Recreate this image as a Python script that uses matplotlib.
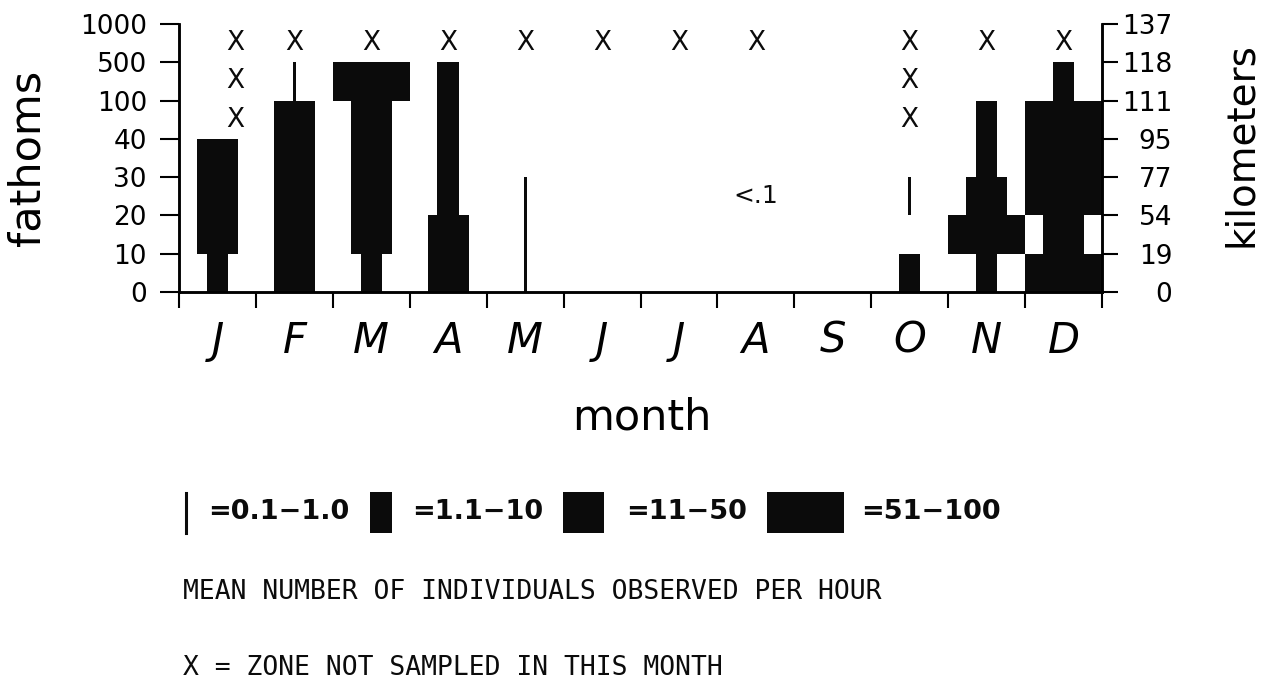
import numpy as np
import matplotlib
matplotlib.use("Agg")
import matplotlib.pyplot as plt
from matplotlib.patches import Rectangle
from matplotlib.lines import Line2D

months = ['J', 'F', 'M', 'A', 'M', 'J', 'J', 'A', 'S', 'O', 'N', 'D']
fathom_labels = ['0', '10', '20', '30', '40', '100', '500', '1000']
km_labels = ['0', '19', '54', '77', '95', '111', '118', '137']

# abundance class in each depth zone, shallow to deep:
# 0-10, 10-20, 20-30, 30-40, 40-100, 100-500, 500-1000 fathoms
# 0 = none, 1 = 0.1-1.0, 2 = 1.1-10, 3 = 11-50, 4 = 51-100
abundance = [
    [2, 3, 3, 3, 0, 0, 0],   # Jan
    [3, 3, 3, 3, 3, 1, 0],   # Feb
    [2, 3, 3, 3, 3, 4, 0],   # Mar
    [3, 3, 2, 2, 2, 2, 0],   # Apr
    [1, 1, 1, 0, 0, 0, 0],   # May
    [0, 0, 0, 0, 0, 0, 0],   # Jun
    [0, 0, 0, 0, 0, 0, 0],   # Jul
    [0, 0, 0, 0, 0, 0, 0],   # Aug
    [0, 0, 0, 0, 0, 0, 0],   # Sep
    [2, 0, 1, 0, 0, 0, 0],   # Oct
    [2, 4, 3, 2, 2, 0, 0],   # Nov
    [4, 3, 4, 4, 4, 2, 0],   # Dec
]
class_labels = ['=0.1\u22121.0', '=1.1\u221210', '=11\u221250', '=51\u2212100']

# (month, zone) pairs that were not sampled
not_sampled = [(0, 4), (0, 5), (0, 6), (1, 6), (2, 6), (3, 6), (4, 6),
               (5, 6), (6, 6), (7, 6), (9, 4), (9, 5), (9, 6), (10, 6), (11, 6)]
# (month, zone) where fewer than 0.1 per hour were seen
trace = [(7, 2)]

W, H = 1273, 679
ink = '#0b0b0b'
# bar width (fraction of a month) for each abundance class
class_width = {1: 0.04, 2: 0.28, 3: 0.53, 4: 1.0}

fig = plt.figure(figsize=(W / 100, H / 100), dpi=100)
ax = fig.add_axes([179 / W, 1 - 292 / H, 923 / W, 268 / H])
ax.set_xlim(0, 12)
ax.set_ylim(0, 7)

# draw runs of equal class as single bars so there is no seam between zones
for m, zones in enumerate(abundance):
    z = 0
    while z < len(zones):
        c = zones[z]
        end = z
        while end + 1 < len(zones) and zones[end + 1] == c:
            end += 1
        if c:
            ax.bar(m + 0.5, end - z + 1, bottom=z, width=class_width[c],
                   color=ink, linewidth=0)
        z = end + 1

for m, z in not_sampled:
    shift = 0.23 if m == 0 else 0.0   # January's column sits right of its bar
    ax.text(m + 0.5 + shift, z + 0.5, 'X', ha='center', va='center',
            family='DejaVu Sans', size=19, color=ink)
for m, z in trace:
    ax.text(m + 0.5, z + 0.5, '<.1', ha='center', va='center', size=18, color=ink)

# axes and ticks
for side in ['left', 'bottom', 'right']:
    ax.spines[side].set_linewidth(1.8)
ax.spines['top'].set_visible(False)

ax.set_xticks(range(13))
ax.set_xticklabels([])
ax.set_xticks(np.arange(12) + 0.5, minor=True)
ax.set_xticklabels(months, minor=True, fontstyle='italic', size=30)
ax.tick_params(axis='x', which='major', direction='out', length=11.5, width=1.5)
ax.tick_params(axis='x', which='minor', length=0, pad=20)

ax.set_yticks(range(8))
ax.set_yticklabels(fathom_labels, size=19)
ax.tick_params(axis='y', direction='out', length=13.7, width=1.5, pad=9.4)

ax2 = ax.twinx()
ax2.set_ylim(0, 7)
ax2.set_yticks(range(8))
ax2.set_yticklabels(km_labels, size=19)
for lab in ax2.get_yticklabels():
    lab.set_horizontalalignment('right')
ax2.tick_params(axis='y', direction='out', length=11.5, width=1.5, pad=39)
for side in ['left', 'bottom', 'right']:
    ax2.spines[side].set_linewidth(1.8)
ax2.spines['top'].set_visible(False)

fig.text(28 / W, 1 - 158 / H, 'fathoms', rotation=90, ha='center', va='center', size=31)
fig.text(1241 / W, 1 - 145 / H, 'kilometers', rotation=90, ha='center', va='center', size=28)
fig.text(642 / W, 1 - 430 / H, 'month', ha='center', va='baseline', size=31)

# key for the abundance classes
month_px = 923 / 12
key_x = [186, 370, 563, 767]
text_x = [208, 412, 626, 861]
for i, lab in enumerate(class_labels):
    w = class_width[i + 1] * month_px
    if i == 0:
        fig.add_artist(Line2D([key_x[i] / W] * 2, [1 - 533 / H, 1 - 493 / H],
                              transform=fig.transFigure, color=ink, lw=2.2))
    else:
        fig.add_artist(Rectangle((key_x[i] / W, 1 - 533 / H), w / W, 41 / H,
                                 transform=fig.transFigure, color=ink, lw=0))
    fig.text(text_x[i] / W, 1 - 512 / H, lab, ha='left', va='center',
             size=19.5, weight='bold', color=ink)

fig.text(183 / W, 1 - 599 / H, 'MEAN NUMBER OF INDIVIDUALS OBSERVED PER HOUR',
         family='DejaVu Sans Mono', size=19, va='baseline', color=ink)
fig.text(183 / W, 1 - 675 / H, 'X = ZONE NOT SAMPLED IN THIS MONTH',
         family='DejaVu Sans Mono', size=19, va='baseline', color=ink)

fig.savefig('out.png', dpi=100)
